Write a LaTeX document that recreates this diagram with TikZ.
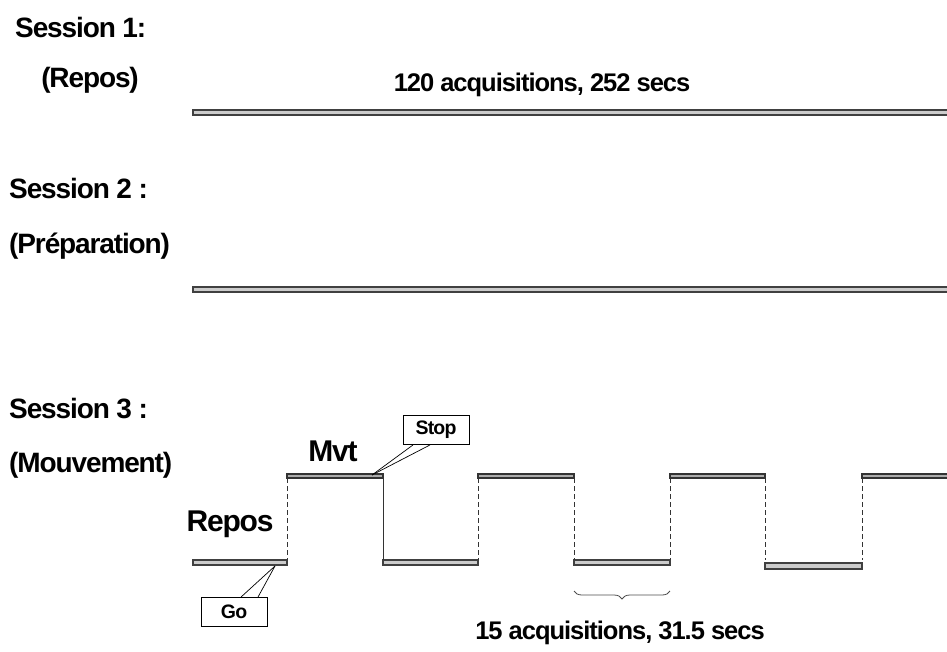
\documentclass[tikz,border=0pt]{standalone}
\usepackage{fontspec}
\setmainfont{Liberation Sans}[LetterSpace=-4]
\usetikzlibrary{decorations.pathreplacing}
\begin{document}
\begin{tikzpicture}[x=1pt,y=-1pt,
  title/.style={font=\bfseries\fontsize{28}{30}\selectfont,inner sep=0pt,anchor=west},
  info/.style={font=\bfseries\fontsize{25.5}{28}\selectfont,inner sep=0pt},
  level/.style={font=\bfseries\fontsize{30}{32}\selectfont,inner sep=0pt},
  lowbar/.style={draw=black!75,fill=gray!40,line width=1.2pt},
  highbar/.style={draw=black!80,fill=gray!65,line width=1.2pt},
  switch/.style={black!80,line width=0.9pt},
  tag/.style={draw,fill=white,line width=0.9pt,font=\bfseries\fontsize{19.5}{20}\selectfont,
    minimum width=66pt,minimum height=29pt,inner sep=0pt}]
\useasboundingbox (0,0) rectangle (947,651);

% session 1
\node[title] (s1) at (15,27) {Session 1:};
\node[title,anchor=center] (s1rest) at (90,80) {(Repos)};
\node[info] (s1info) at (542,85) {120 acquisitions, 252 secs};
\draw[lowbar] (193,110) rectangle (960,115);

% session 2
\node[title] (s2) at (9,188) {Session 2 :};
\node[title] (s2prep) at (9,246) {(Préparation)};
\draw[lowbar] (193,287) rectangle (960,292);

% session 3
\node[title] (s3) at (9,409) {Session 3 :};
\node[title] (s3mvt) at (9,465) {(Mouvement)};

% blocs repos / mouvement
\draw[lowbar] (193,560) rectangle (287,565);
\draw[highbar] (287,474) rectangle (383,478);
\draw[lowbar] (383,560) rectangle (478,565);
\draw[highbar] (478,474) rectangle (574,478);
\draw[lowbar] (574,560) rectangle (670,565);
\draw[highbar] (670,474) rectangle (765,478);
\draw[lowbar] (765,563) rectangle (862,569);
\draw[highbar] (862,474) rectangle (960,478);

% transitions
\foreach \x in {287,478,574,670,765,862}
  \draw[switch,dash pattern=on 5pt off 3pt] (\x,478) -- (\x,560);
\draw[switch] (383,478) -- (383,560);

\node[level] (mvt) at (333,451) {Mvt};
\node[level] (repos) at (230,524) {Repos};

% bulles Go / Stop
\coordinate (stoptip) at (372,475);
\node[tag] (stop) at (436,430) {Stop};
\draw[line width=0.7pt] (stoptip) -- ([xshift=-23pt]stop.south);
\draw[line width=0.7pt] (stoptip) -- ([xshift=-6pt]stop.south);

\coordinate (gotip) at (275,566);
\node[tag] (go) at (234,612) {Go};
\draw[line width=0.7pt] (gotip) -- ([xshift=7pt]go.north);
\draw[line width=0.7pt] (gotip) -- ([xshift=24pt]go.north);

% accolade sous un bloc
\coordinate (bl) at (574,591);
\coordinate (br) at (670,591);
\draw[black!70,line width=0.8pt,decorate,decoration={brace,mirror,amplitude=8pt}] (bl) -- (br);
\node[info] (s3info) at (620,633) {15 acquisitions, 31.5 secs};
\end{tikzpicture}
\end{document}
